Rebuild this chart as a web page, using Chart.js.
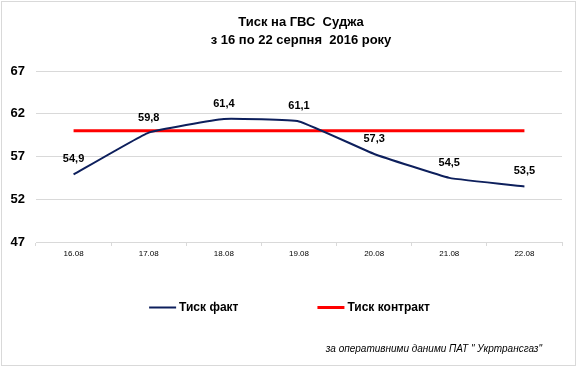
<!DOCTYPE html>
<html>
<head>
<meta charset="utf-8">
<script src="https://cdn.jsdelivr.net/npm/chart.js@4"></script>
<style>
  html, body { margin: 0; padding: 0; background: #fff; }
  #wrap { width: 579px; height: 368px; position: relative; }
</style>
</head>
<body>
<div id="wrap"><canvas id="pressureChart" width="579" height="368"></canvas></div>
<script>
let dates = ["16.08","17.08","18.08","19.08","20.08","21.08","22.08"];
let factValues = [54.9, 59.8, 61.4, 61.1, 57.3, 54.5, 53.5];
let contractValues = [60, 60, 60, 60, 60, 60, 60];
let yTicks = [47, 52, 57, 62, 67];
let titleLines = ["Тиск на ГВС  Суджа", "з 16 по 22 серпня  2016 року"];
let footerText = "за оперативними даними ПАТ \" Укртрансгаз\"";

const FONT = "'Liberation Sans', Arial, sans-serif";

// frame around the whole picture
const framePlugin = {
  id: "frame",
  afterLayout(chart) {
    // let the y tick labels reach past the left padding (no clipping)
    chart.scales.y.left = 0;
  },
  beforeDraw(chart) {
    let ctx = chart.ctx;
    ctx.save();
    ctx.fillStyle = "#fff";
    ctx.fillRect(0, 0, chart.width, chart.height);
    ctx.strokeStyle = "#d9d9d9";
    ctx.lineWidth = 1;
    ctx.strokeRect(1.5, 1.5, chart.width - 5, chart.height - 4);
    ctx.restore();
  }
};

// value labels above the "fact" line
const valueLabels = {
  id: "valueLabels",
  afterDatasetsDraw(chart) {
    let ctx = chart.ctx;
    let meta = chart.getDatasetMeta(0);
    ctx.save();
    ctx.font = "bold 11px " + FONT;
    ctx.fillStyle = "#000";
    ctx.textAlign = "center";
    ctx.textBaseline = "middle";
    meta.data.forEach((pt, i) => {
      let txt = factValues[i].toFixed(1).replace(".", ",");
      ctx.fillText(txt, pt.x, pt.y - 15);
    });
    ctx.restore();
  }
};

// legend + source note at the bottom
const bottomLegend = {
  id: "bottomLegend",
  afterDraw(chart) {
    let ctx = chart.ctx;
    let sets = chart.data.datasets;
    ctx.save();
    ctx.font = "bold 12px " + FONT;
    ctx.textBaseline = "middle";
    let lineLen = 27, gapText = 3, gapItem = 79;
    let widths = sets.map(d => lineLen + gapText + ctx.measureText(d.label).width);
    let total = widths.reduce((a, b) => a + b, 0) + gapItem * (sets.length - 1);
    let x = chart.width / 2 - total / 2;
    let y = 307.5;
    sets.forEach((d, i) => {
      ctx.strokeStyle = d.borderColor;
      ctx.lineWidth = d.borderWidth;
      ctx.beginPath();
      ctx.moveTo(x, y);
      ctx.lineTo(x + lineLen, y);
      ctx.stroke();
      ctx.fillStyle = "#000";
      ctx.textAlign = "left";
      ctx.fillText(d.label, x + lineLen + gapText, y);
      x += widths[i] + gapItem;
    });
    ctx.font = "italic 10px " + FONT;
    ctx.textAlign = "right";
    ctx.fillText(footerText, 542, 349);
    ctx.restore();
  }
};

let ctx = document.getElementById("pressureChart").getContext("2d");
let pressureChart = new Chart(ctx, {
  type: "line",
  data: {
    labels: dates,
    datasets: [
      {
        label: "Тиск факт",
        data: factValues,
        borderColor: "#0d1f5c",
        borderWidth: 2,
        pointRadius: 0,
        tension: 0.1,
        fill: false
      },
      {
        label: "Тиск контракт",
        data: contractValues,
        borderColor: "#ff0000",
        borderWidth: 3,
        pointRadius: 0,
        tension: 0,
        fill: false
      }
    ]
  },
  options: {
    responsive: false,
    animation: false,
    layout: { padding: { left: 23, right: 0, top: 0, bottom: 106 } },
    plugins: {
      legend: { display: false },
      tooltip: { enabled: false },
      title: {
        display: true,
        text: titleLines,
        color: "#000",
        font: { family: FONT, size: 13, weight: "bold", lineHeight: 1.385 },
        padding: { top: 13, bottom: 22 }
      }
    },
    scales: {
      x: {
        offset: true,
        grid: { drawOnChartArea: false, drawTicks: true, tickLength: 4, offset: true, color: "#d9d9d9" },
        border: { display: true, color: "#d9d9d9" },
        ticks: { color: "#000", font: { family: FONT, size: 8 }, padding: 3, maxRotation: 0, autoSkip: false },
        afterFit(scale) { scale.height = 20; }
      },
      y: {
        min: yTicks[0],
        max: yTicks[yTicks.length - 1],
        afterBuildTicks(scale) { scale.ticks = yTicks.map(v => ({ value: v })); },
        grid: { color: "#d9d9d9", drawTicks: false },
        border: { display: false },
        ticks: { color: "#000", font: { family: FONT, size: 13, weight: "bold" }, padding: 11 },
        afterFit(scale) { scale.width = 13; }
      },
      y2: {
        position: "right",
        grid: { display: false },
        border: { display: false },
        ticks: { display: false },
        afterFit(scale) { scale.width = 17; }
      }
    }
  },
  plugins: [framePlugin, valueLabels, bottomLegend]
});
</script>
</body>
</html>
